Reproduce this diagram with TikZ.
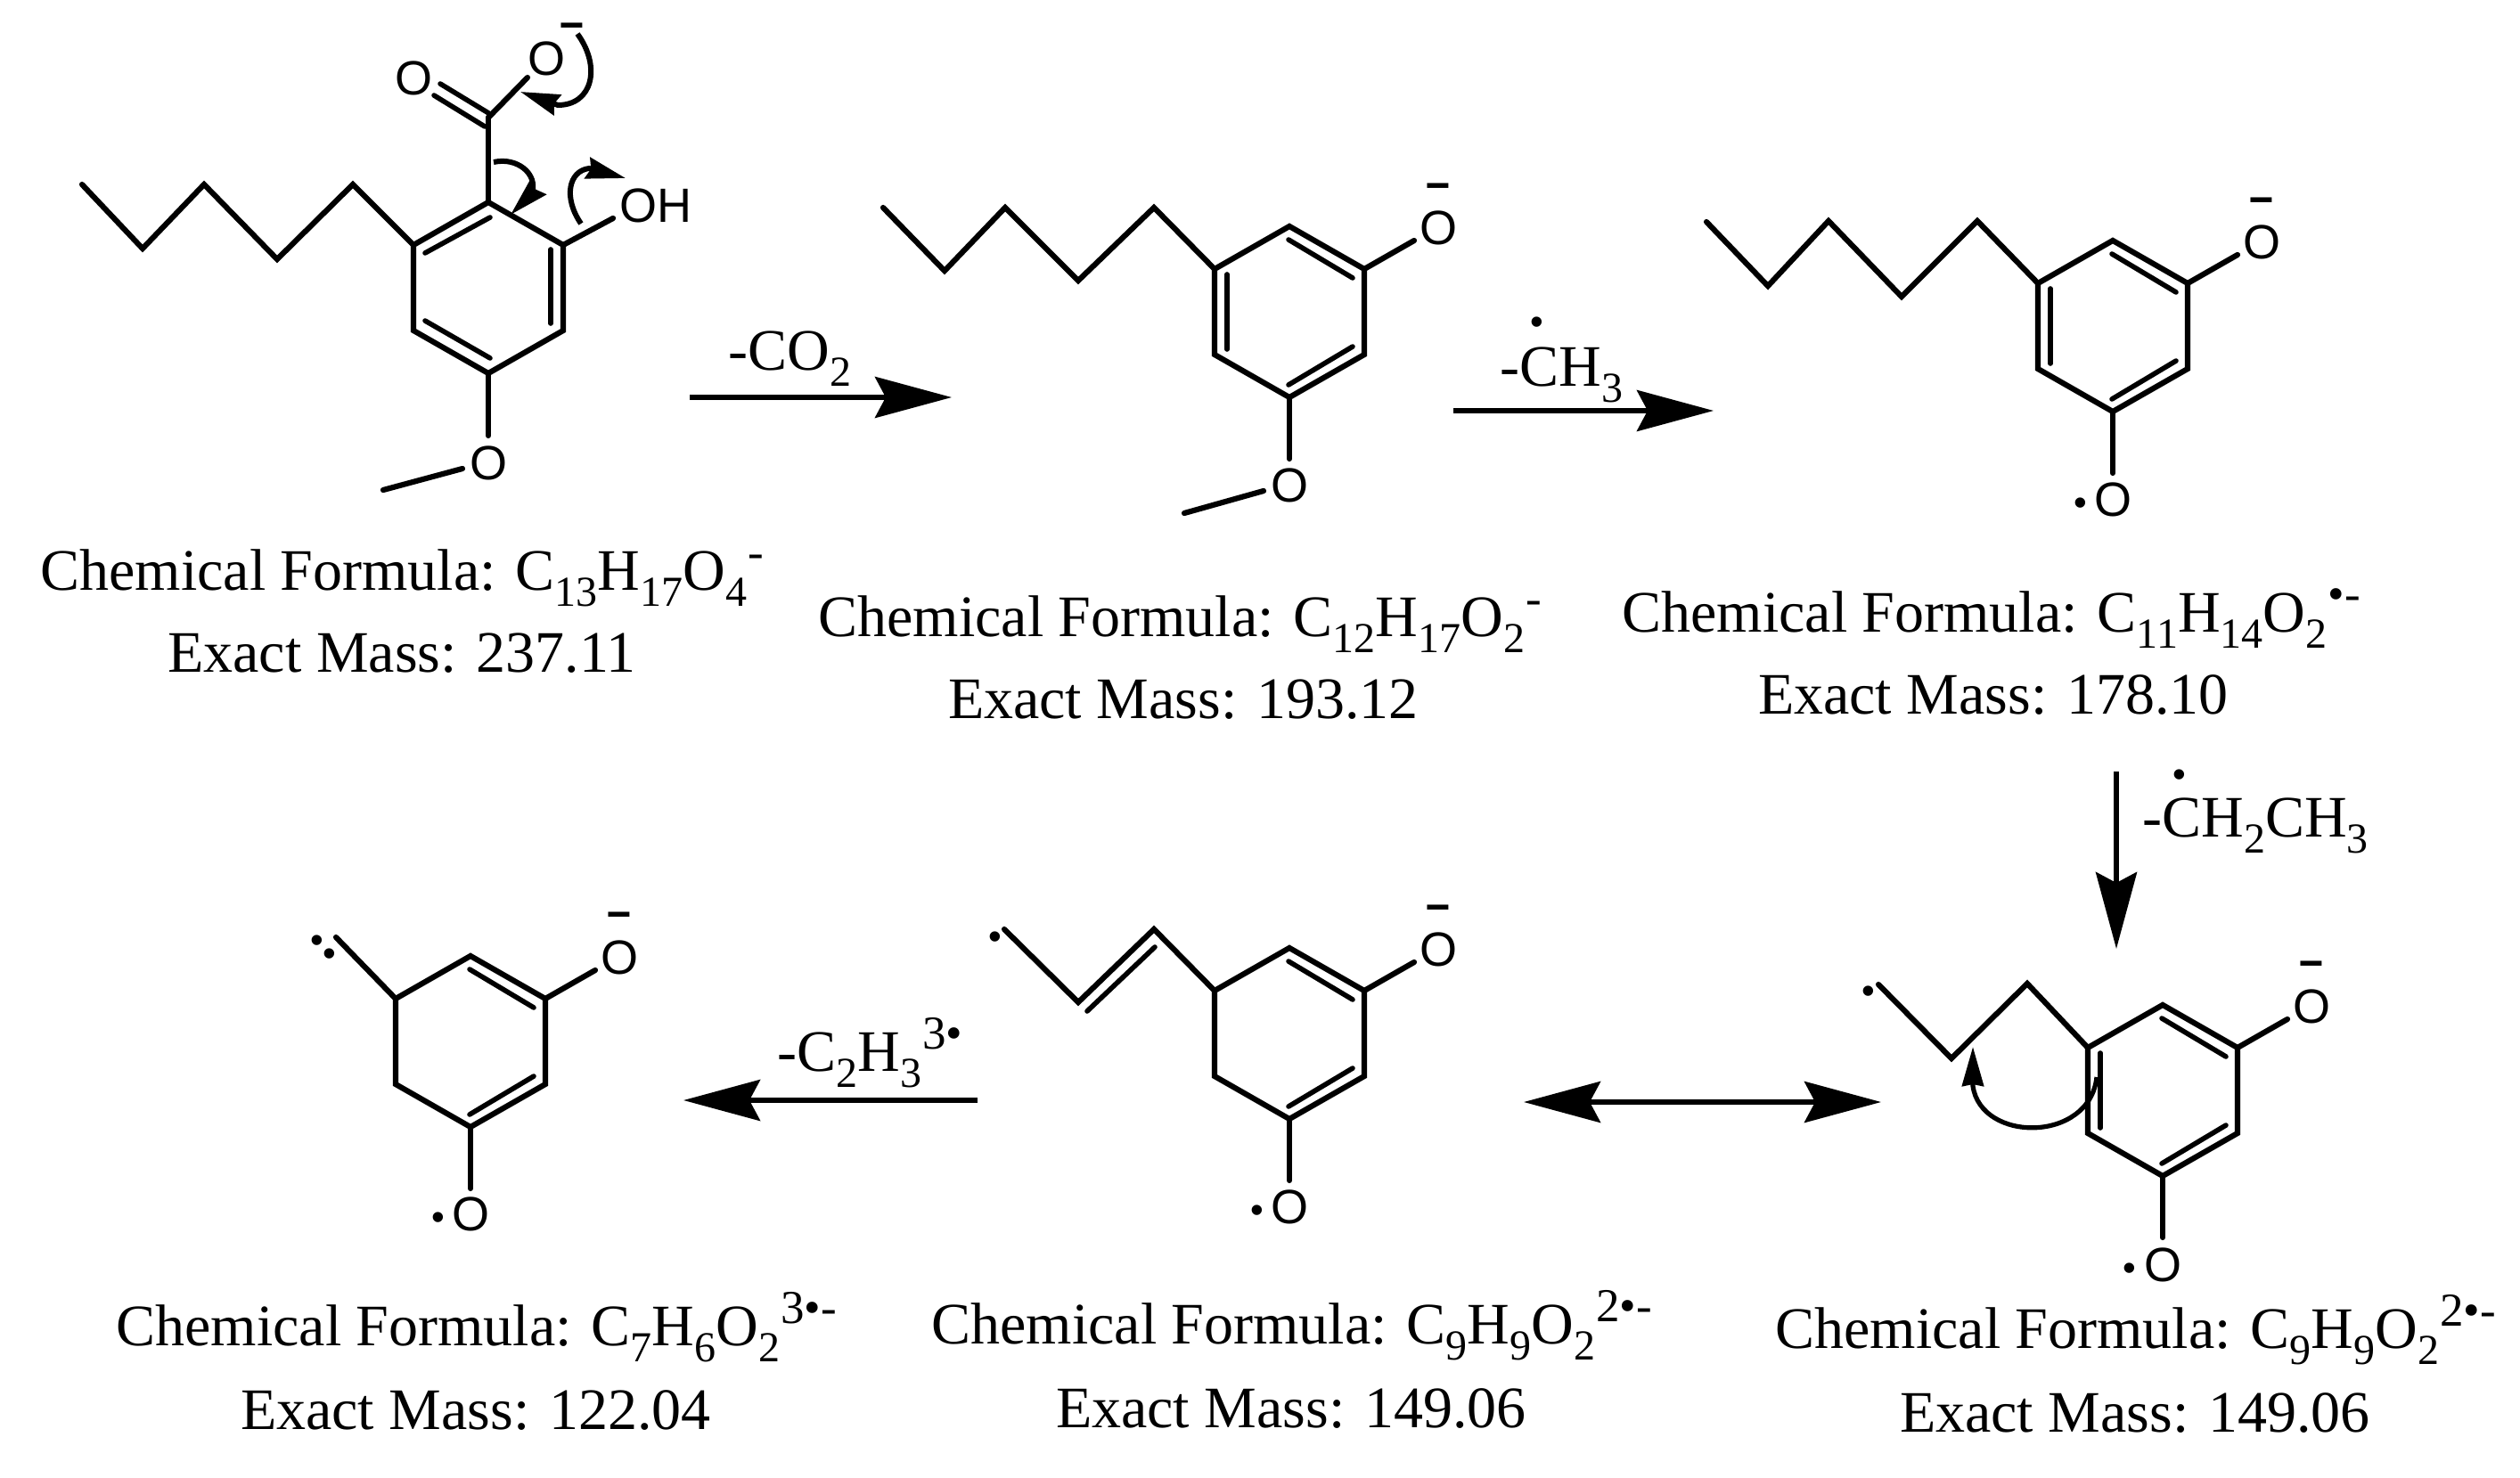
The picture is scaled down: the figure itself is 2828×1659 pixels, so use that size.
\documentclass[tikz,border=0pt]{standalone}
\usepackage{fontspec}
\usepackage{graphicx}
\setmainfont{Liberation Serif}
\newfontfamily\atomfont{Liberation Sans}
\usetikzlibrary{arrows.meta}
\newcommand\subx[1]{\raisebox{-9pt}{\fontsize{24}{26}\selectfont #1}}
\newcommand\supx[1]{\kern0.6pt\raisebox{12.5pt}{\fontsize{26.5}{28}\selectfont #1}}
\newcommand\mn{\scalebox{1.05}[1.2]{–}}
\newcommand\ringbase[3]{%
  \coordinate (#1T) at (#2,#3-96);
  \coordinate (#1RT) at (#2+84,#3-48);
  \coordinate (#1RB) at (#2+84,#3+48);
  \coordinate (#1B) at (#2,#3+96);
  \coordinate (#1LB) at (#2-84,#3+48);
  \coordinate (#1LT) at (#2-84,#3-48);
  \coordinate (#1Oa) at (#2+140,#3-80);
  \coordinate (#1Ob) at (#2,#3+165);
  \draw[bond] (#1T)--(#1RT)--(#1RB)--(#1B)--(#1LB)--(#1LT)--cycle;
  \coordinate (#1a) at (#2-1,#3-81);   \coordinate (#1b) at (#2+71,#3-38);
  \coordinate (#1c) at (#2-1,#3+82);   \coordinate (#1d) at (#2+71,#3+39);
  \coordinate (#1e) at (#2-70,#3-42);  \coordinate (#1f) at (#2-70,#3+42);
}
\newcommand\innerTR[1]{\draw[ibond] (#1a)--(#1b);}
\newcommand\innerBR[1]{\draw[ibond] (#1c)--(#1d);}
\newcommand\innerL[1]{\draw[ibond] (#1e)--(#1f);}
\tikzset{
  bond/.style={line width=3.1pt,line cap=round,line join=miter},
  ibond/.style={line width=2.8pt,line cap=round},
  rxn/.style={line width=3pt,-{Stealth[length=43pt,width=23pt,inset=6pt]}},
  rxnboth/.style={line width=3pt,{Stealth[length=43pt,width=23pt,inset=6pt]}-{Stealth[length=43pt,width=23pt,inset=6pt]}},
  curly/.style={line width=3pt,-{Stealth[length=22pt,width=12pt,inset=2pt]}},
  atom/.style={font=\atomfont\fontsize{27}{29}\selectfont,inner sep=0pt},
  minus/.style={font=\atomfont\bfseries\fontsize{23}{25}\selectfont,inner sep=0pt,yshift=-2pt},
  raddot/.style={font=\atomfont\fontsize{21}{23}\selectfont,inner sep=0pt},
  lbl/.style={font=\fontsize{33}{36}\selectfont,inner sep=0pt,anchor=base west},
  lblc/.style={font=\fontsize{33}{36}\selectfont,inner sep=0pt,anchor=base},
}
\begin{document}
\begin{tikzpicture}[x=0.5pt,y=-0.5pt]
\fill[white] (0,0) rectangle (2828,1659);
\useasboundingbox (0,0) rectangle (2828,1659);

% ---------- structure 1
\ringbase{A}{548}{323}
\coordinate (ai1) at (477,284); \coordinate (ai2) at (550,244);
\coordinate (ai3) at (618,280); \coordinate (ai4) at (618,363);
\coordinate (ai5) at (477,360); \coordinate (ai6) at (550,402);
\draw[ibond] (ai1)--(ai2);
\draw[ibond] (ai3)--(ai4);
\draw[ibond] (ai5)--(ai6);
\coordinate (a1) at (92,207); \coordinate (a2) at (160,279); \coordinate (a3) at (229,207);
\coordinate (a4) at (311,291); \coordinate (a5) at (396,207);
\draw[bond] (a1)--(a2)--(a3)--(a4)--(a5)--(ALT);
\coordinate (ac) at (548,132);
\draw[bond] (AT)--(ac);
\coordinate (ad1) at (494,94); \coordinate (ad1b) at (550,128);
\coordinate (ad2) at (487,107); \coordinate (ad2b) at (544,142);
\draw[ibond] (ad1)--(ad1b);
\draw[ibond] (ad2)--(ad2b);
\coordinate (ao) at (592,87);
\draw[bond] (ac)--(ao);
\node[atom] (O1a) at (464,88) {O};
\node[atom] (O1b) at (613,66) {O};
\node[minus] (m1) at (642,31) {\mn};
\coordinate (aoh) at (688,245);
\draw[bond] (ART)--(aoh);
\node[atom,anchor=west] (OH1) at (695,231) {OH};
\coordinate (aob) at (548,489);
\draw[bond] (AB)--(aob);
\node[atom] (O1c) at (548,520) {O};
\coordinate (am1) at (519,526); \coordinate (am2) at (430,550);
\draw[bond] (am1)--(am2);
% curly arrows
\coordinate (c1s) at (648,38); \coordinate (c1e) at (626,118); \coordinate (c1t) at (584,103);
\draw[curly] (c1s) .. controls (675,75) and (665,118) .. (c1e) -- (c1t);
\coordinate (c2s) at (554,182); \coordinate (c2e) at (597,217); \coordinate (c2t) at (573,241);
\draw[curly] (c2s) .. controls (580,176) and (604,195) .. (c2e) -- (c2t);
\coordinate (c3s) at (652,251); \coordinate (c3e) at (661,189); \coordinate (c3t) at (702,200);
\draw[curly] (c3s) .. controls (632,222) and (638,192) .. (c3e) -- (c3t);
\node[lbl] (f1) at (45,662) {Chemical Formula: C\subx{13}H\subx{17}O\subx{4}\supx{-}};
\node[lblc] (e1) at (451,754) {Exact Mass: 237.11};

% ---------- arrow 1
\coordinate (r1s) at (774,446); \coordinate (r1e) at (1068,446);
\draw[rxn] (r1s)--(r1e);
\node[lbl] (t1) at (817,415) {-CO\subx{2}};

% ---------- structure 2
\ringbase{B}{1447}{350}
\innerTR{B}\innerBR{B}\innerL{B}
\coordinate (b1) at (991,233); \coordinate (b2) at (1060,304); \coordinate (b3) at (1128,233);
\coordinate (b4) at (1210,315); \coordinate (b5) at (1295,233);
\draw[bond] (b1)--(b2)--(b3)--(b4)--(b5)--(BLT);
\draw[bond] (BRT)--(BOa);
\node[atom] (O2a) at (1614,256) {O};
\node[minus] (m2) at (1614,211) {\mn};
\draw[bond] (BB)--(BOb);
\node[atom] (O2b) at (1447,545) {O};
\coordinate (bm1) at (1418,551); \coordinate (bm2) at (1329,576);
\draw[bond] (bm1)--(bm2);
\node[lbl] (f2) at (918,714) {Chemical Formula: C\subx{12}H\subx{17}O\subx{2}\supx{-}};
\node[lblc] (e2) at (1328,806) {Exact Mass: 193.12};

% ---------- arrow 2
\coordinate (r2s) at (1631,461); \coordinate (r2e) at (1923,461);
\draw[rxn] (r2s)--(r2e);
\node[lbl] (t2) at (1683,433) {-CH\subx{3}};
\node[raddot] (d2) at (1725,366) {•};

% ---------- structure 3
\ringbase{C}{2371}{366}
\innerTR{C}\innerBR{C}\innerL{C}
\coordinate (c1) at (1915,249); \coordinate (c2) at (1984,321); \coordinate (c3) at (2052,248);
\coordinate (c4) at (2134,333); \coordinate (c5) at (2219,248);
\draw[bond] (c1)--(c2)--(c3)--(c4)--(c5)--(CLT);
\draw[bond] (CRT)--(COa);
\node[atom] (O3a) at (2538,272) {O};
\node[minus] (m3) at (2538,227) {\mn};
\draw[bond] (CB)--(COb);
\node[atom] (O3b) at (2371,561) {O};
\node[raddot] (d3) at (2335,569) {•};
\node[lbl] (f3) at (1820,709) {Chemical Formula: C\subx{11}H\subx{14}O\subx{2}\supx{•-}};
\node[lblc] (e3) at (2237,801) {Exact Mass: 178.10};

% ---------- arrow 3
\coordinate (r3s) at (2375,866); \coordinate (r3e) at (2375,1065);
\draw[rxn] (r3s)--(r3e);
\node[lbl] (t3) at (2404,939) {-CH\subx{2}CH\subx{3}};
\node[raddot] (d4) at (2446,874) {•};

% ---------- structure 6 (bottom right)
\ringbase{F}{2427}{1224}
\innerTR{F}\innerBR{F}\innerL{F}
\coordinate (f1c) at (2108,1105); \coordinate (f2c) at (2190,1188); \coordinate (f3c) at (2275,1104);
\draw[bond] (f1c)--(f2c)--(f3c)--(FLT);
\node[raddot] (d5) at (2097,1117) {•};
\draw[bond] (FRT)--(FOa);
\node[atom] (O6a) at (2594,1130) {O};
\node[minus] (m6) at (2594,1084) {\mn};
\draw[bond] (FB)--(FOb);
\node[atom] (O6b) at (2427,1420) {O};
\node[raddot] (d6) at (2390,1428) {•};
\coordinate (c6s) at (2353,1209); \coordinate (c6e) at (2214,1219); \coordinate (c6t) at (2214,1175);
\draw[curly,line width=2.6pt,-{Stealth[length=22pt,width=12pt,inset=1pt]}] (c6s) .. controls (2345,1283) and (2223,1283) .. (c6e) -- (c6t);
\node[lbl] (f6) at (1992,1513) {Chemical Formula: C\subx{9}H\subx{9}O\subx{2}\supx{2•-}};
\node[lblc] (e6) at (2396,1607) {Exact Mass: 149.06};

% ---------- double arrow
\coordinate (r4s) at (1710,1237); \coordinate (r4e) at (2111,1237);
\draw[rxnboth] (r4s)--(r4e);

% ---------- structure 5
\ringbase{E}{1447}{1160}
\innerTR{E}\innerBR{E}
\coordinate (e1c) at (1127,1043); \coordinate (e2c) at (1210,1125); \coordinate (e3c) at (1295,1043);
\draw[bond] (e1c)--(e2c)--(e3c)--(ELT);
\coordinate (e4c) at (1220,1135); \coordinate (e5c) at (1296,1063);
\draw[ibond] (e4c)--(e5c);
\node[raddot] (d7) at (1117,1056) {•};
\draw[bond] (ERT)--(EOa);
\node[atom] (O5a) at (1614,1066) {O};
\node[minus] (m5) at (1614,1021) {\mn};
\draw[bond] (EB)--(EOb);
\node[atom] (O5b) at (1447,1355) {O};
\node[raddot] (d8) at (1411,1363) {•};
\node[lbl] (f5) at (1045,1508) {Chemical Formula: C\subx{9}H\subx{9}O\subx{2}\supx{2•-}};
\node[lblc] (e5) at (1449,1602) {Exact Mass: 149.06};

% ---------- arrow 5
\coordinate (r5s) at (1097,1235); \coordinate (r5e) at (767,1235);
\draw[rxn] (r5s)--(r5e);
\node[lbl] (t5) at (872,1202) {-C\subx{2}H\subx{3}\supx{3•}};

% ---------- structure 4
\ringbase{D}{528}{1169}
\innerTR{D}\innerBR{D}
\coordinate (d1c) at (377,1052);
\draw[bond] (d1c)--(DLT);
\node[raddot] (d9) at (356,1060) {•};
\node[raddot] (d10) at (370,1075) {•};
\draw[bond] (DRT)--(DOa);
\node[atom] (O4a) at (695,1075) {O};
\node[minus] (m4) at (695,1029) {\mn};
\draw[bond] (DB)--(DOb);
\node[atom] (O4b) at (528,1363) {O};
\node[raddot] (d11) at (492,1371) {•};
\node[lbl] (f4) at (130,1510) {Chemical Formula: C\subx{7}H\subx{6}O\subx{2}\supx{3•-}};
\node[lblc] (e4) at (534,1604) {Exact Mass: 122.04};
\end{tikzpicture}
\end{document}
